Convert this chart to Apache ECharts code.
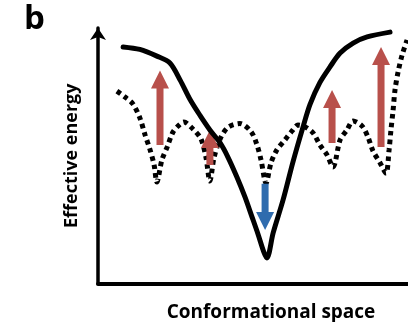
<!DOCTYPE html>
<html>
<head>
<meta charset="utf-8">
<script src="https://cdn.jsdelivr.net/npm/echarts@6/dist/echarts.min.js"></script>
<style>
html,body{margin:0;padding:0;background:#fff;}
#c{width:408px;height:322px;}
</style>
</head>
<body>
<div id="c"></div>
<script>
// Solid curve (effective energy landscape) [x, y]
const solidX = [8.1, 13.5, 19.0, 23.2, 26.5, 29.7, 32.9, 36.1, 39.4, 41.9, 44.8, 47.4, 49.7, 51.6, 53.5, 54.5, 56.5, 59.7, 62.9, 66.1, 68.4, 71.6, 74.8, 78.1, 82.3, 86.8, 94.2];
const solidY = [92.6, 91.6, 89.0, 86.3, 79.6, 72.0, 65.8, 60.1, 55.0, 49.5, 41.7, 33.9, 26.0, 19.4, 12.3, 10.0, 19.8, 32.7, 47.6, 61.1, 70.1, 78.7, 84.7, 90.2, 94.1, 96.5, 98.4];
// Dotted curve (rugged landscape)
const dotX = [6.1, 8.7, 11.3, 13.5, 15.2, 16.8, 18.1, 19.0, 20.6, 22.3, 24.2, 25.8, 27.7, 30.6, 33.2, 34.8, 36.1, 37.4, 39.4, 41.9, 45.8, 49.4, 51.3, 52.6, 54.2, 55.8, 57.7, 60.3, 62.6, 64.5, 66.8, 69.4, 71.6, 73.9, 75.8, 78.1, 80.3, 82.3, 85.2, 87.1, 88.7, 91.0, 92.9, 93.9, 94.5, 95.2, 95.8, 96.8, 98.1, 99.7];
const dotY = [75.3, 73.0, 70.2, 64.8, 58.1, 52.3, 46.4, 39.7, 48.3, 53.4, 59.3, 61.6, 63.2, 60.5, 56.6, 49.5, 40.1, 49.1, 56.6, 61.1, 62.6, 59.4, 54.2, 48.3, 39.3, 47.2, 52.3, 56.2, 59.7, 62.0, 61.3, 58.9, 54.2, 50.3, 45.6, 56.2, 60.1, 63.6, 61.6, 57.3, 51.9, 47.2, 43.2, 52.3, 60.1, 67.9, 75.7, 82.8, 89.4, 95.3];
// Arrows: x position, start y, end y
const redArrowX = [20.0, 36.1, 75.5, 91.3];
const redArrowFrom = [54.2, 46.4, 55.0, 53.4];
const redArrowTo = [83.4, 60.1, 75.7, 92.6];
const blueArrowX = [53.9];
const blueArrowFrom = [39.0];
const blueArrowTo = [20.9];

const labels = { panel: 'b', x: 'Conformational space', y: 'Effective energy' };

const zip = (a, b) => a.map((v, i) => [v, b[i]]);
const zip3 = (a, b, c) => a.map((v, i) => [v, b[i], c[i]]);

function arrowRender(params, api) {
  const x = api.value(0), y0 = api.value(1), y1 = api.value(2);
  const p0 = api.coord([x, y0]), p1 = api.coord([x, y1]);
  const dir = p1[1] < p0[1] ? -1 : 1;
  const head = 18, hw = 9, sw = 3.5;
  const baseY = p1[1] - dir * head;
  const cx = p0[0];
  const pts = [[cx - sw, p0[1]], [cx - sw, baseY], [cx - hw, baseY], [cx, p1[1]], [cx + hw, baseY], [cx + sw, baseY], [cx + sw, p0[1]]];
  return { type: 'polygon', shape: { points: pts }, style: { fill: api.visual('color') } };
}

const chart = echarts.init(document.getElementById('c'), null, { renderer: 'canvas' });
const font = 'Open Sans';
chart.setOption({
  animation: false,
  title: [
    { text: labels.panel, left: 19, top: -2, textStyle: { fontFamily: font, fontWeight: 'bold', fontSize: 33, color: '#000' } },
    { text: labels.x, left: 266, top: 298, textAlign: 'center', textStyle: { fontFamily: font, fontWeight: 'bold', fontSize: 19, color: '#000' } }
  ],
  grid: { left: 98, right: 0, top: 28, bottom: 38.5 },
  xAxis: {
    type: 'value', min: 0, max: 100,
    axisLine: { show: true, lineStyle: { color: '#000', width: 4 } },
    axisTick: { show: false }, axisLabel: { show: false }, splitLine: { show: false }
  },
  yAxis: {
    type: 'value', min: 0, max: 100,
    name: labels.y, nameLocation: 'middle', nameGap: 17,
    nameTextStyle: { fontFamily: font, fontWeight: 'bold', fontSize: 18, color: '#000' },
    axisLine: { show: true, symbol: ['none', 'arrow'], symbolSize: [12, 12], symbolOffset: [0, 0], lineStyle: { color: '#000', width: 3.5 } },
    axisTick: { show: false }, axisLabel: { show: false }, splitLine: { show: false }
  },
  series: [
    {
      type: 'line', data: zip(dotX, dotY), smooth: 0.3, showSymbol: false, z: 1,
      lineStyle: { color: '#000', width: 5, type: [4.5, 4], cap: 'butt' }
    },
    {
      type: 'custom', renderItem: arrowRender, data: zip3(redArrowX, redArrowFrom, redArrowTo),
      encode: { x: 0, y: [1, 2] }, itemStyle: { color: '#b8504b' }, z: 2
    },
    {
      type: 'custom', renderItem: arrowRender, data: zip3(blueArrowX, blueArrowFrom, blueArrowTo),
      encode: { x: 0, y: [1, 2] }, itemStyle: { color: '#2f6cae' }, z: 2
    },
    {
      type: 'line', data: zip(solidX, solidY), smooth: 0.3, showSymbol: false, z: 3,
      lineStyle: { color: '#000', width: 5, cap: 'round', join: 'round' }
    }
  ]
});
</script>
</body>
</html>
